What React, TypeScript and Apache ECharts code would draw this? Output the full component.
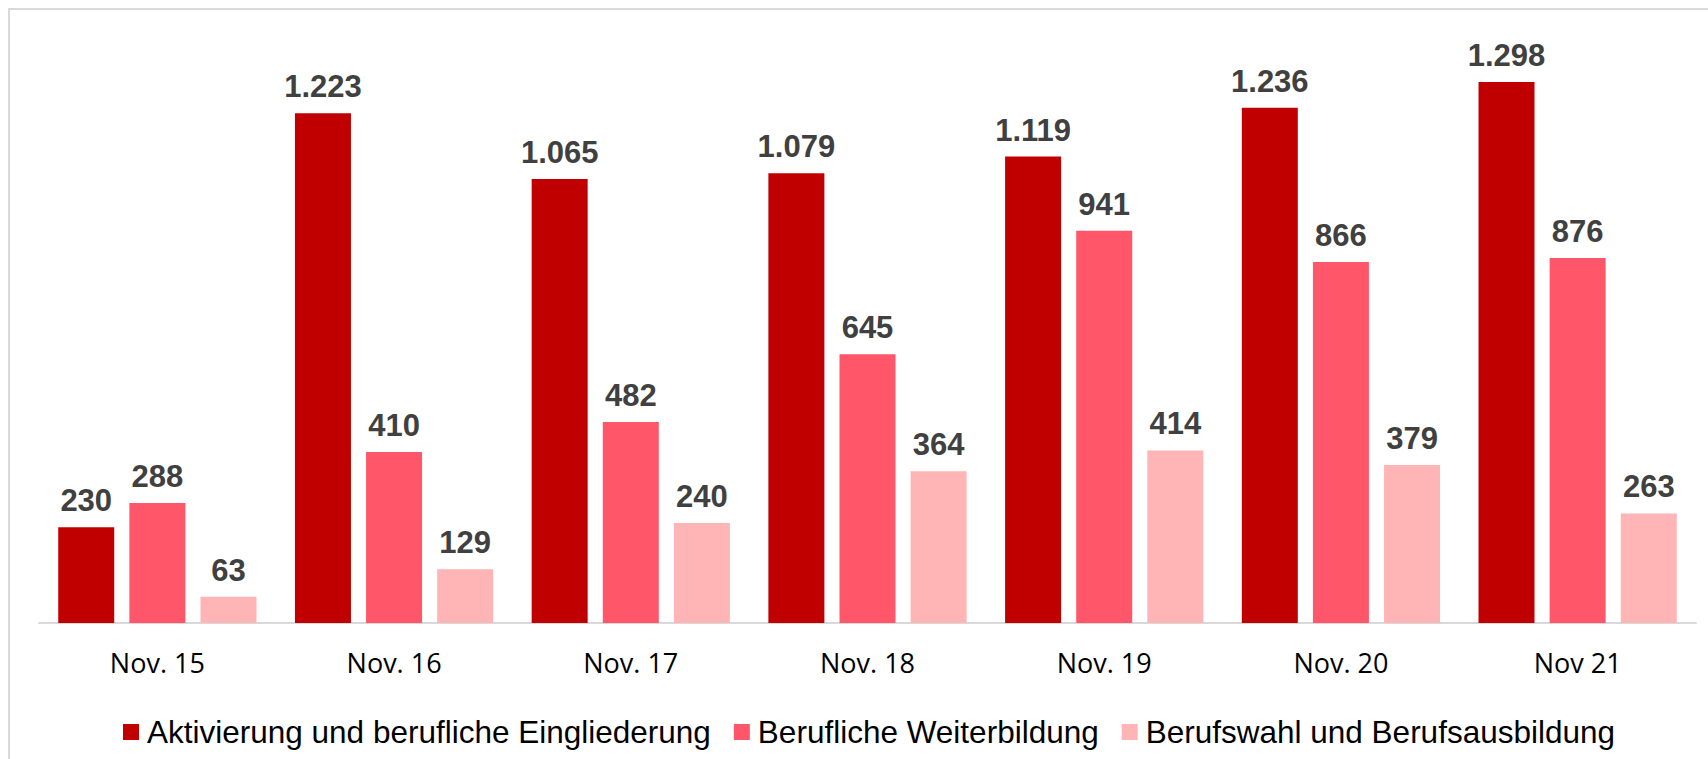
import React, { useEffect, useRef } from "react";
import * as echarts from "echarts";

const categories = ["Nov. 15", "Nov. 16", "Nov. 17", "Nov. 18", "Nov. 19", "Nov. 20", "Nov 21"];
const seriesNames = [
  "Aktivierung und berufliche Eingliederung",
  "Berufliche Weiterbildung",
  "Berufswahl und Berufsausbildung",
];
const aktivierung = [230, 1223, 1065, 1079, 1119, 1236, 1298];
const weiterbildung = [288, 410, 482, 645, 941, 866, 876];
const berufswahl = [63, 129, 240, 364, 414, 379, 263];
const colors = ["#C00000", "#FF5669", "#FFB4B6"];

const fmt = (v: number) => v.toLocaleString("de-DE");

export default function App() {
  const ref = useRef<HTMLDivElement>(null);
  useEffect(() => {
    if (!ref.current) return;
    const chart = echarts.init(ref.current, null, { renderer: "svg" });
    const values = [aktivierung, weiterbildung, berufswahl];
    chart.setOption({
      animation: false,
      backgroundColor: "#ffffff",
      graphic: [
        {
          type: "rect",
          shape: { x: 9, y: 9, width: 1760, height: 800 },
          style: { fill: "none", stroke: "#d9d9d9", lineWidth: 2 },
          silent: true,
        },
      ],
      grid: { left: 39, right: 12, top: 39.5, bottom: 136 },
      legend: {
        left: 118,
        top: 711,
        itemWidth: 16,
        itemHeight: 16,
        itemGap: 23,
        icon: "rect",
        data: seriesNames,
        textStyle: {
          fontFamily: "Liberation Sans",
          fontSize: 31.5,
          color: "#000000",
          padding: [0, 0, 0, 3],
        },
      },
      xAxis: {
        type: "category",
        data: categories,
        axisLine: { lineStyle: { color: "#d9d9d9", width: 2 } },
        axisTick: { show: false },
        axisLabel: {
          fontFamily: "Open Sans",
          fontSize: 27,
          color: "#000000",
          margin: 26,
        },
      },
      yAxis: {
        type: "value",
        min: 0,
        max: 1400,
        show: false,
        splitLine: { show: false },
      },
      series: seriesNames.map((name, i) => ({
        name,
        type: "bar",
        data: values[i],
        barWidth: 56,
        barGap: "27%",
        itemStyle: { color: colors[i] },
        label: {
          show: true,
          position: "top",
          distance: 11,
          formatter: (p: any) => fmt(p.value),
          fontFamily: "Liberation Sans",
          fontWeight: "bold",
          fontSize: 31,
          color: "#404040",
        },
      })),
    });
    return () => chart.dispose();
  }, []);
  return (
    <div
      ref={ref}
      style={{ position: "fixed", left: 0, top: 0, width: 1708, height: 759 }}
    />
  );
}
